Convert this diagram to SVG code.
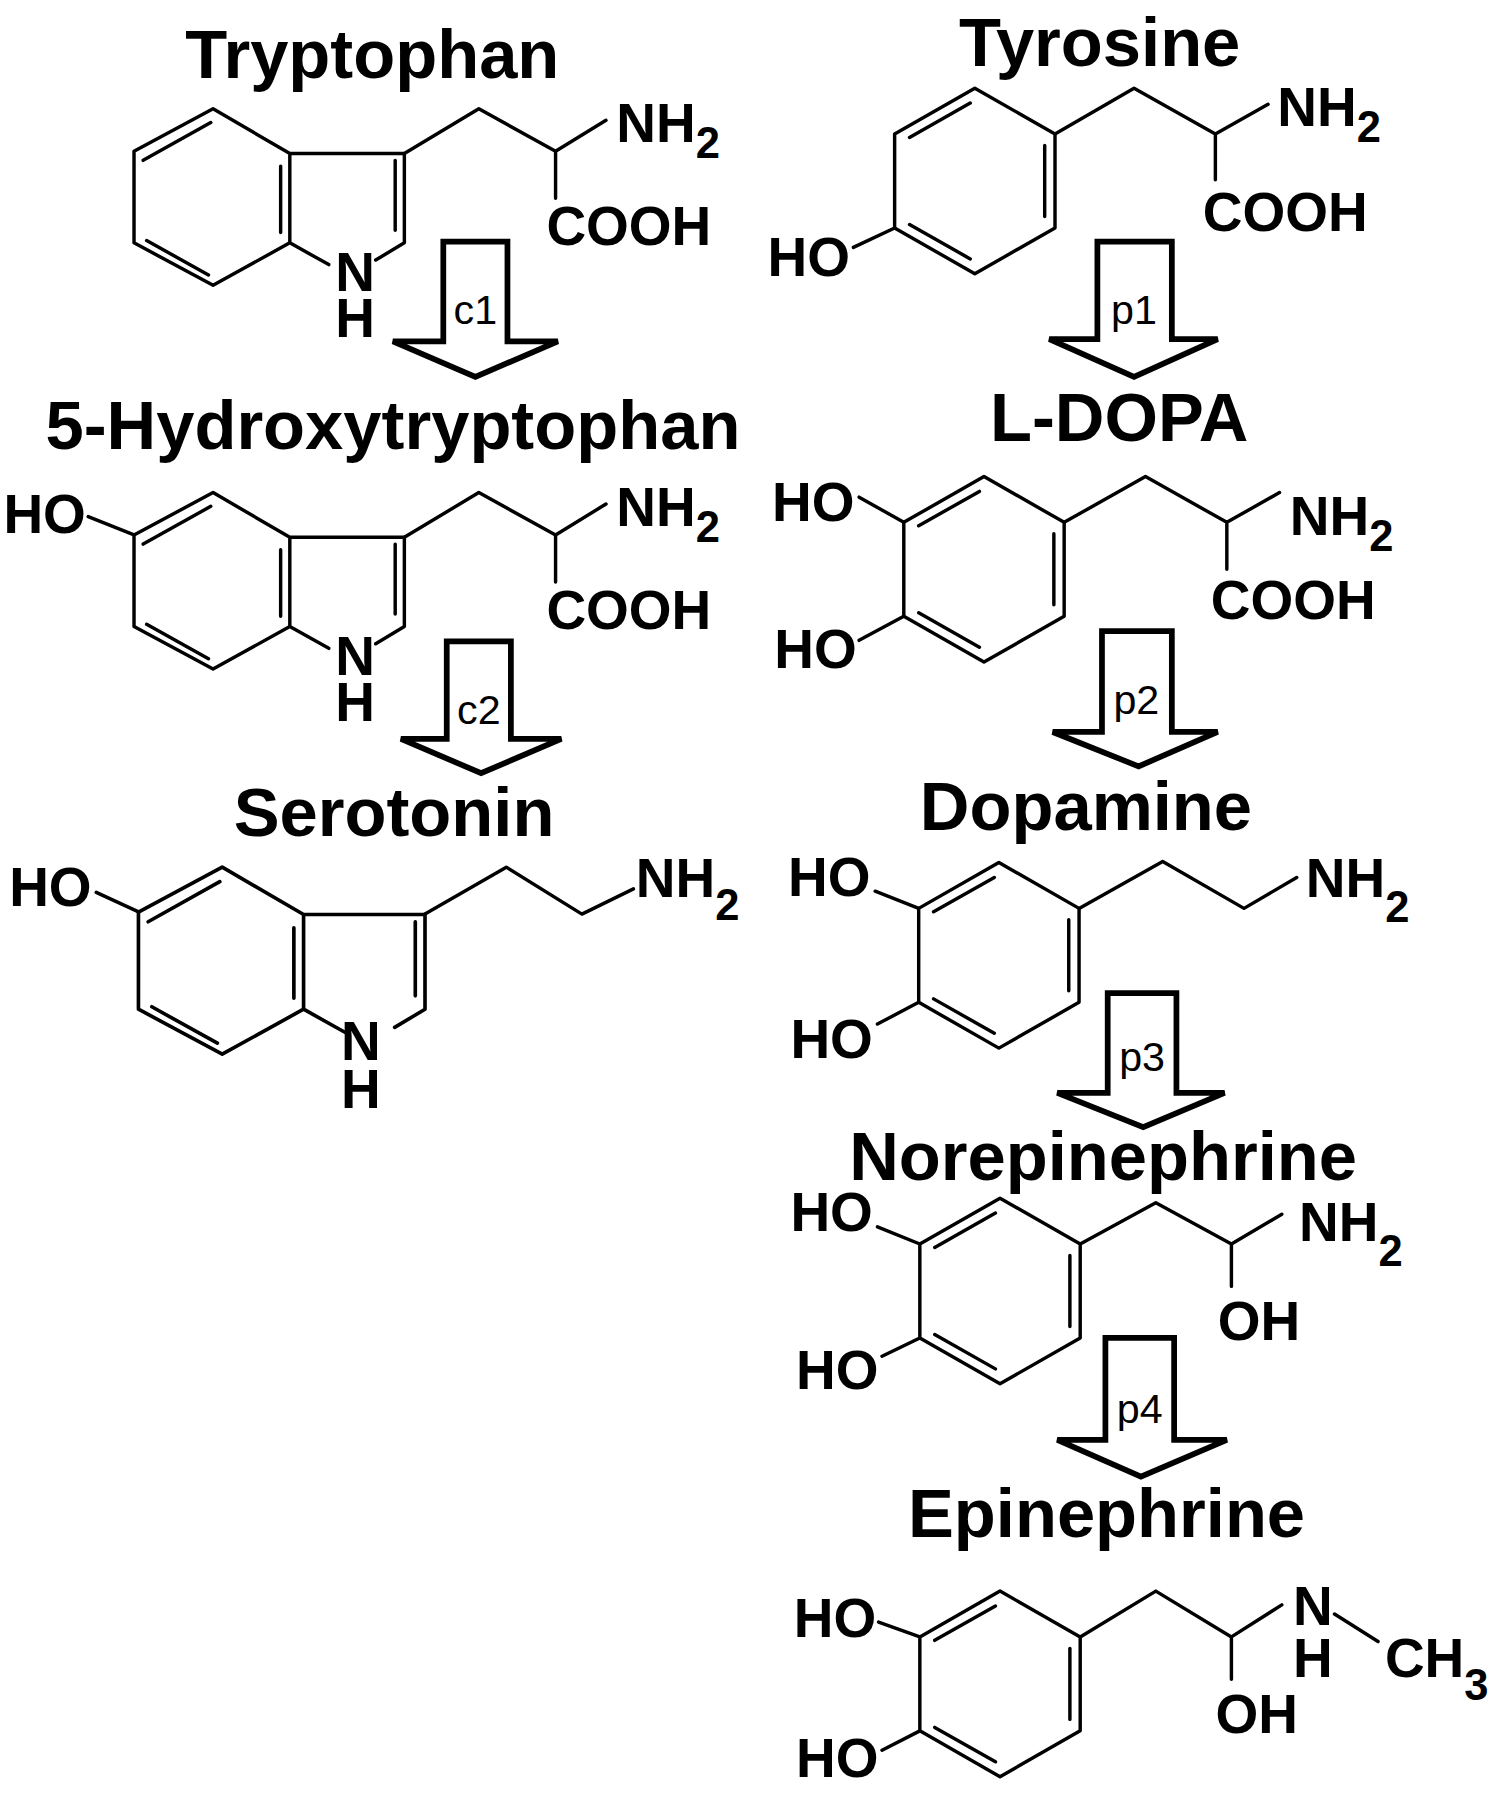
<svg xmlns="http://www.w3.org/2000/svg" xmlns:xlink="http://www.w3.org/1999/xlink" width="1500" height="1799" viewBox="0 0 1500 1799">
<style>
.b{fill:none;stroke:#000;stroke-width:3;stroke-linecap:round;stroke-linejoin:round}
.t{font-family:"Liberation Sans",Arial,sans-serif;font-weight:bold;font-size:60px;text-anchor:middle;fill:#000}
.a{font-family:"Liberation Sans",Arial,sans-serif;font-weight:bold;font-size:48px;fill:#000}
.s{font-family:"Liberation Sans",Arial,sans-serif;font-weight:bold;font-size:38px;fill:#000}
.m{text-anchor:middle}
.arr{fill:#fff;stroke:#000;stroke-width:5;stroke-linejoin:miter}
.l{font-family:"Liberation Sans",Arial,sans-serif;font-size:36px;text-anchor:middle;fill:#000}
</style>
<defs>
<g id="benz"><path class="b" d="M0,0 L70,40 L70,122 L0,162 L-70,122 L-70,40 Z M-57,43 L-4,13 M61,50 L61,112 M-57,119 L-4,149"/></g>
<g id="indole"><path class="b" d="M0,0 L67,39 L67,117 L0,154 L-69,117 L-69,37 Z M67,39 L167,39 L167,117 L142,132 M67,117 L101,136 M-61,45 L-2,12 M-58,115 L-4,145 M59,50 L59,108 M159,45 L159,106"/></g>
</defs>
<rect width="1500" height="1799" fill="#fff"/>
<g transform="scale(1.1455)">
<g id="tryptophan">
<text class="t" x="325" y="68">Tryptophan</text>
<use href="#indole" x="186" y="95"/>
<path class="b" d="M353,134 L418,95 L485,132 L529,105 M485,132 L485,173"/>
<text class="a m" x="310" y="254">N<tspan x="310" dy="40">H</tspan></text>
<text class="a" x="538" y="124">NH<tspan class="s" dy="14">2</tspan></text>
<text class="a" x="477" y="214">COOH</text>
</g>
<g id="hydroxytryptophan">
<text class="t" x="343" y="392">5-Hydroxytryptophan</text>
<use href="#indole" x="186" y="430"/>
<path class="b" d="M353,469 L418,430 L485,467 L529,440 M485,467 L485,508 M77,451 L117,467"/>
<text class="a" x="3" y="465">HO</text>
<text class="a m" x="310" y="589">N<tspan x="310" dy="40">H</tspan></text>
<text class="a" x="538" y="459">NH<tspan class="s" dy="14">2</tspan></text>
<text class="a" x="477" y="549">COOH</text>
</g>
<g id="serotonin">
<text class="t" x="344" y="730">Serotonin</text>
<g transform="translate(194,757) scale(1.06)"><use href="#indole"/></g>
<path class="b" d="M371,798 L442,757 L508,798 L553,776 M84,779 L121,796"/>
<text class="a" x="8" y="791">HO</text>
<text class="a m" x="315" y="925">N<tspan x="315" dy="42">H</tspan></text>
<text class="a" x="555" y="783">NH<tspan class="s" dy="20">2</tspan></text>
</g>
<g id="tyrosine">
<text class="t" x="960" y="58">Tyrosine</text>
<use href="#benz" x="851" y="77"/>
<path class="b" d="M921,117 L990,77 L1061,117 L1107,91 M1061,117 L1061,157 M781,199 L745,216"/>
<text class="a" x="670" y="241">HO</text>
<text class="a" x="1115" y="110">NH<tspan class="s" dy="14">2</tspan></text>
<text class="a" x="1050" y="202">COOH</text>
</g>
<g id="ldopa">
<text class="t" x="977" y="385">L-DOPA</text>
<use href="#benz" x="859" y="416"/>
<path class="b" d="M929,456 L1000,416 L1071,456 L1117,430 M1071,456 L1071,497 M750,434 L789,456 M789,538 L750,559"/>
<text class="a" x="674" y="455">HO</text>
<text class="a" x="676" y="583">HO</text>
<text class="a" x="1126" y="467">NH<tspan class="s" dy="14">2</tspan></text>
<text class="a" x="1057" y="540">COOH</text>
</g>
<g id="dopamine">
<text class="t" x="948" y="725">Dopamine</text>
<use href="#benz" x="872" y="753"/>
<path class="b" d="M942,793 L1015,752 L1086,793 L1132,766 M764,778 L802,793 M802,875 L766,894"/>
<text class="a" x="688" y="782">HO</text>
<text class="a" x="690" y="924">HO</text>
<text class="a" x="1140" y="783">NH<tspan class="s" dy="22">2</tspan></text>
</g>
<g id="norepinephrine">
<text class="t" x="963" y="1030">Norepinephrine</text>
<use href="#benz" x="873" y="1046"/>
<path class="b" d="M943,1086 L1009,1050 L1075,1086 L1119,1060 M1075,1086 L1075,1123 M766,1071 L803,1086 M803,1168 L770,1184"/>
<text class="a" x="690" y="1075">HO</text>
<text class="a" x="695" y="1213">HO</text>
<text class="a" x="1134" y="1083">NH<tspan class="s" dy="22">2</tspan></text>
<text class="a" x="1063" y="1170">OH</text>
</g>
<g id="epinephrine">
<text class="t" x="966" y="1342">Epinephrine</text>
<use href="#benz" x="873" y="1389"/>
<path class="b" d="M943,1429 L1009,1389 L1075,1429 L1119,1401 M1075,1429 L1075,1466 M1165,1409 L1203,1433 M767,1416 L803,1429 M803,1511 L770,1528"/>
<text class="a" x="693" y="1429">HO</text>
<text class="a" x="695" y="1551">HO</text>
<text class="a m" x="1146" y="1419">N<tspan x="1146" dy="45">H</tspan></text>
<text class="a" x="1209" y="1464">CH<tspan class="s" dy="20">3</tspan></text>
<text class="a" x="1061" y="1513">OH</text>
</g>
<g id="connectors">
<polygon class="arr" points="387,211 443,211 443,298 487,298 415,329 343,298 387,298"/>
<text class="l" x="415" y="283">c1</text>
<polygon class="arr" points="390,560 446,560 446,645 490,645 420,675 350,645 390,645"/>
<text class="l" x="418" y="632">c2</text>
<polygon class="arr" points="958,211 1023,211 1023,296 1063,296 990,329 916,296 958,296"/>
<text class="l" x="990" y="283">p1</text>
<polygon class="arr" points="962,551 1023,551 1023,639 1063,639 994,669 919,639 962,639"/>
<text class="l" x="992" y="623">p2</text>
<polygon class="arr" points="967,867 1027,867 1027,954 1069,954 998,984 923,954 967,954"/>
<text class="l" x="997" y="935">p3</text>
<polygon class="arr" points="965,1168 1025,1168 1025,1257 1071,1257 996,1289 923,1257 965,1257"/>
<text class="l" x="995" y="1242">p4</text>
</g>
</g>
</svg>
